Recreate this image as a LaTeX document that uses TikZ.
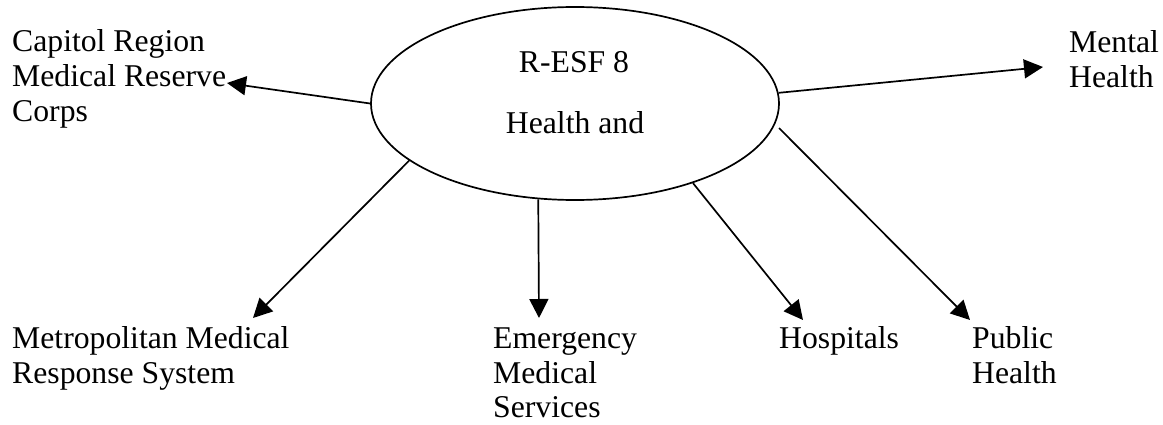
\documentclass[tikz,border=0pt]{standalone}
\usepackage{fontspec}
\setmainfont{Liberation Serif}
\usetikzlibrary{arrows.meta,shapes.geometric}
\newcommand\mylines[1]{\begin{tabular}[t]{@{}l@{}}#1\end{tabular}}
\tikzset{
  lbl/.style={inner sep=0pt, anchor=base west, font=\fontsize{31.7}{35}\selectfont},
  ttl/.style={inner sep=0pt, anchor=base, font=\fontsize{31.7}{35}\selectfont},
  conn/.style={line width=1.7pt, -{Triangle[length=19pt,width=19pt]}},
  hub/.style={draw, ellipse, line width=1.7pt, minimum width=408pt, minimum height=193pt, inner sep=0pt}
}
\begin{document}
\begin{tikzpicture}[x=1pt,y=-1pt]
\useasboundingbox (0,0) rectangle (1163,425);
\node[hub] (ell) at (575,103.5) {};
\node[ttl] (t1) at (574,73) {R-ESF 8};
\node[ttl] (t2) at (575,134) {Health and};

\node[lbl] (crmrc) at (12,52) {\mylines{Capitol Region\\Medical Reserve\\Corps}};
\node[lbl] (mental) at (1069,53) {\mylines{Mental\\Health}};
\node[lbl] (mmrs) at (12,348) {\mylines{Metropolitan Medical\\Response System}};
\node[lbl] (ems) at (493,348) {\mylines{Emergency\\Medical\\Services}};
\node[lbl] (hosp) at (779,348) {Hospitals};
\node[lbl] (pub) at (972,348) {\mylines{Public\\Health}};

\coordinate (tcr) at (227,83);
\coordinate (tme) at (1043,67);
\coordinate (tmm) at (253,318);
\coordinate (tem) at (539,318);
\coordinate (tho) at (803,320);
\coordinate (tpu) at (970,320);
\coordinate (spu) at (779,128);

\draw[conn] (ell.west) -- (tcr);
\draw[conn] (ell.3.2) -- (tme);
\draw[conn] (ell.199.3) -- (tmm);
\draw[conn] (ell.249.5) -- (tem);
\draw[conn] (ell.326.1) -- (tho);
\draw[conn] (spu) -- (tpu);
\end{tikzpicture}
\end{document}
